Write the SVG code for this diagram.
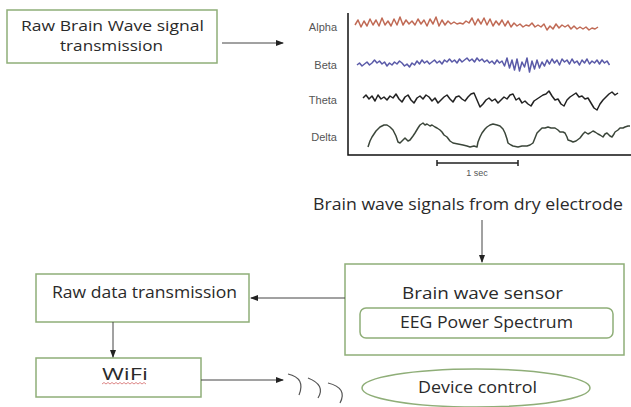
<svg xmlns="http://www.w3.org/2000/svg" width="631" height="407" viewBox="0 0 631 407">
<style>
.box{fill:#fff;stroke:#8fae78;stroke-width:1.5}
.t{font-family:"Open Sans","Liberation Sans",sans-serif;font-size:15.5px;fill:#2a2a2a;text-anchor:middle}
.t2{font-size:14.5px}
.lbl{font-family:"Liberation Sans",Arial,sans-serif;font-size:11px;fill:#555;text-anchor:end}
.con{stroke:#444;stroke-width:1;fill:none}
.wave{fill:none;stroke-width:1.5;stroke-linejoin:round;vector-effect:non-scaling-stroke}
</style>
<defs>
<marker id="ah" markerWidth="8" markerHeight="6" refX="7" refY="3" orient="auto" markerUnits="userSpaceOnUse">
<path d="M0,0 L8,3 L0,6 z" fill="#222"/>
</marker>
</defs>
<rect width="631" height="407" fill="#fff"/>

<g id="raw-brain-wave">
<rect class="box" x="7" y="10" width="210" height="53"/>
<text class="t t2" x="112.5" y="30.5" textLength="183" lengthAdjust="spacingAndGlyphs">Raw Brain Wave signal</text>
<text class="t t2" x="111.5" y="50.5" textLength="103" lengthAdjust="spacingAndGlyphs">transmission</text>
</g>

<g id="eeg-chart">
<path d="M348,13 V155 H631" stroke="#111" stroke-width="1.5" fill="none"/>
<text class="lbl" x="337" y="31">Alpha</text>
<text class="lbl" x="337" y="69">Beta</text>
<text class="lbl" x="337" y="104">Theta</text>
<text class="lbl" x="337" y="141">Delta</text>
<polyline class="wave" stroke="#c06a55" transform="translate(355,0) scale(3,1)" points="0,25 1,20 2,27 3,21 4,26 5,19 6,25 7,20 8,26 9,18 10,25 11,21 12,26 13,19 14,25 15,17 16,25 17,20 18,24 19,21 20,25 21,19 22,24 23,20 24,26 25,19 26,24 27,17 28,26 29,20 30,25 31,21 32,24 33,22 34,24 35,23 36,24 37,21 38,23 39,18 40,25 41,19 42,24 43,18 44,25 45,19 46,26 47,21 48,25 49,20 50,26 51,21 52,27 53,23 54,26 55,24 56,27 57,25 58,26 59,23 60,27 61,25 62,27 63,24 64,30 65,26 66,29 67,24 68,28 69,25 70,27 71,25 72,29 73,26 74,29 75,27 76,29 77,27 78,30 79,28 80,29 81,27"/>
<polyline class="wave" stroke="#5a5aa8" transform="translate(357,0) scale(2.5,1)" points="0,65 1,63 2,66 3,64 4,62 5,65 6,63 7,60 8,63 9,61 10,64 11,62 12,66 13,63 14,65 15,62 16,64 17,61 18,63 19,66 20,64 21,67 22,63 23,65 24,61 25,64 26,60 27,63 28,61 29,64 30,62 31,60 32,63 33,61 34,64 35,60 36,62 37,59 38,62 39,60 40,63 41,59 42,62 43,60 44,58 45,61 46,59 47,62 48,58 49,61 50,59 51,62 52,60 53,63 54,61 55,64 56,60 57,63 58,61 59,66 60,58 61,68 62,60 63,70 64,59 65,71 66,62 67,67 68,58 69,72 70,61 71,69 72,60 73,68 74,62 75,66 76,60 77,64 78,59 79,63 80,60 81,65 82,59 83,62 84,60 85,64 86,59 87,63 88,61 89,65 90,60 91,63 92,59 93,64 94,61 95,63 96,60 97,64 98,60 99,63 100,61 101,65"/>
<polyline class="wave" stroke="#222" transform="translate(363,0) scale(3,1)" points="0,98 1,95 2,99 3,96 4,101 5,95 6,99 7,97 8,100 9,96 10,98 11,94 12,99 13,102 14,97 15,95 16,100 17,103 18,98 19,96 20,99 21,95 22,97 23,101 24,98 25,103 26,100 27,97 28,95 29,99 30,102 31,97 32,96 33,99 34,101 35,97 36,94 37,93 38,100 39,107 40,104 41,100 42,98 43,101 44,99 45,103 46,100 47,97 48,99 49,95 50,94 51,100 52,98 53,103 54,101 55,104 56,106 57,101 58,99 59,97 60,95 61,94 62,91 63,96 64,100 65,99 66,104 67,106 68,100 69,97 70,95 71,93 72,97 73,96 74,99 75,98 76,103 77,108 78,110 79,104 80,100 81,97 82,94 83,92 84,95 85,93"/>
<polyline class="wave" stroke="#3b463a" points="368,147 370,141 372,137 376,131 380,127 384,125 387,125 390,127 393,130 396,136 398,142 400,143 403,140 405,138 408,141 410,140 413,136 415,133 418,128 420,125 423,123 425,125 427,124 430,126 432,125 435,127 437,128 440,130 442,132 444,135 447,137 450,141 453,143 458,144 463,145 467,146 470,147 474,146 477,147 478,142 480,137 482,133 485,129 487,127 490,125 493,124 497,125 500,126 503,129 505,133 507,139 508,143 511,145 513,146 518,147 522,146 527,146 530,145 533,143 535,138 537,133 540,130 542,128 545,128 548,127 551,128 555,128 558,130 560,132 563,132 565,133 567,137 568,140 571,141 573,142 576,141 580,138 583,134 585,132 588,134 590,133 593,131 595,132 598,134 600,135 603,137 605,134 607,133 610,136 612,137 614,134 615,132 618,130 620,128 623,128 625,127 628,126 630,126"/>
<path d="M437,163 H518 M437,160 V166 M518,160 V166" stroke="#222" stroke-width="1.5" fill="none"/>
<text x="477" y="176" font-family="Liberation Sans,Arial,sans-serif" font-size="9" fill="#555" text-anchor="middle">1 sec</text>
</g>

<g id="dry-electrode">
<text class="t" x="468" y="210" textLength="310" lengthAdjust="spacingAndGlyphs">Brain wave signals from dry electrode</text>
</g>

<g id="brain-wave-sensor">
<rect class="box" x="345" y="264" width="279" height="91"/>
<text class="t" x="482.5" y="299" textLength="161" lengthAdjust="spacingAndGlyphs">Brain wave sensor</text>
<rect class="box" x="360" y="308" width="253" height="30" rx="6"/>
<text class="t" x="486.5" y="328" textLength="173" lengthAdjust="spacingAndGlyphs">EEG Power Spectrum</text>
</g>

<g id="raw-data">
<rect class="box" x="36" y="274" width="213" height="48"/>
<text class="t" x="144.5" y="298" textLength="185" lengthAdjust="spacingAndGlyphs">Raw data transmission</text>
</g>

<g id="wifi">
<rect class="box" x="36" y="358" width="165" height="39"/>
<text class="t" x="125" y="380" textLength="46" lengthAdjust="spacingAndGlyphs">WiFi</text>
<path d="M102,384 l2,-1.5 l2,1.5 l2,-1.5 l2,1.5 l2,-1.5 l2,1.5 l2,-1.5 l2,1.5 l2,-1.5 l2,1.5 l2,-1.5 l2,1.5 l2,-1.5 l2,1.5 l2,-1.5 l2,1.5 l2,-1.5 l2,1.5 l2,-1.5 l2,1.5 l2,-1.5 l2,1.5" fill="none" stroke="#d46a6a" stroke-width="0.8"/>
</g>

<g id="wireless">
<path d="M288,374 Q306,378 299,395 M308,378 Q326,385 318,398 M328,383 Q348,388 340,403" fill="none" stroke="#555" stroke-width="1.2"/>
</g>

<g id="device-control">
<ellipse cx="476" cy="388" rx="114" ry="19" fill="#fff" stroke="#8fae78" stroke-width="1.5"/>
<text class="t" x="477.5" y="393" textLength="119" lengthAdjust="spacingAndGlyphs">Device control</text>
</g>

<g id="connectors">
<line class="con" x1="222" y1="43" x2="283" y2="43" marker-end="url(#ah)"/>
<line class="con" x1="482" y1="220" x2="482" y2="262" marker-end="url(#ah)"/>
<line class="con" x1="345" y1="298" x2="251" y2="298" marker-end="url(#ah)"/>
<line class="con" x1="113" y1="322" x2="113" y2="357" marker-end="url(#ah)"/>
<line class="con" x1="201" y1="380" x2="283" y2="380" marker-end="url(#ah)"/>
</g>
</svg>
